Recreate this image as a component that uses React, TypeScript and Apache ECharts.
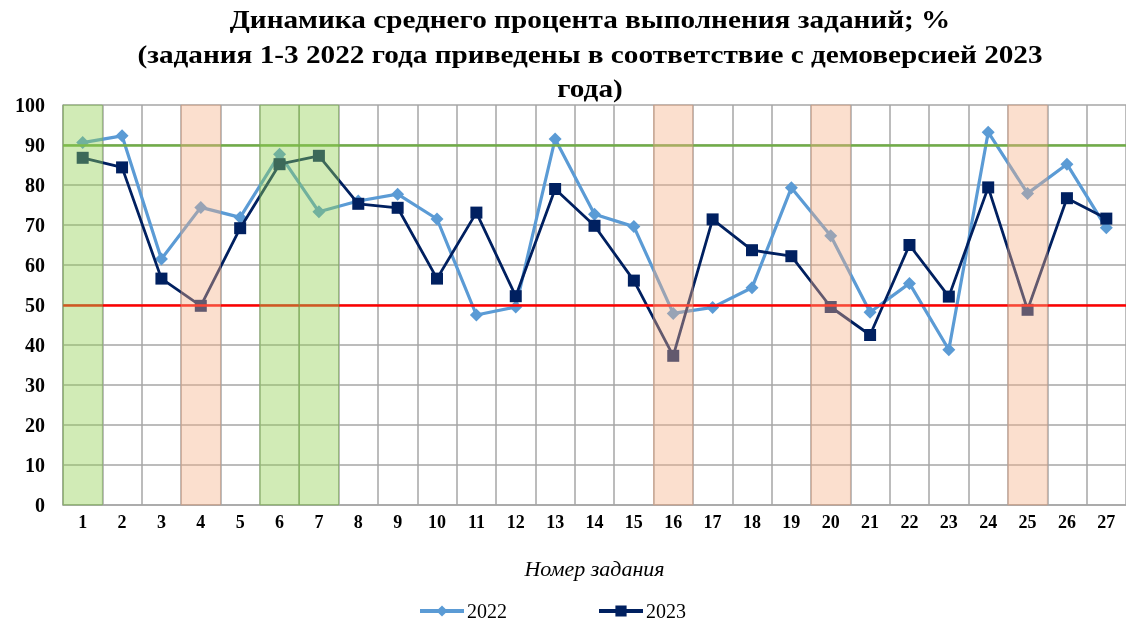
import React, { useEffect, useRef } from "react";
import * as echarts from "echarts";

const categories = ["1","2","3","4","5","6","7","8","9","10","11","12","13","14","15","16","17","18","19","20","21","22","23","24","25","26","27"];
const values2022 = [90.6, 92.3, 61.5, 74.4, 71.9, 87.7, 73.3, 76.0, 77.7, 71.5, 47.5, 49.5, 91.5, 72.7, 69.6, 47.9, 49.4, 54.3, 79.3, 67.3, 48.2, 55.4, 38.8, 93.2, 77.9, 85.2, 69.3];
const values2023 = [86.8, 84.4, 56.6, 49.8, 69.2, 85.2, 87.3, 75.3, 74.3, 56.6, 73.1, 52.2, 79.0, 69.8, 56.1, 37.3, 71.4, 63.7, 62.2, 49.5, 42.5, 65.0, 52.1, 79.4, 48.8, 76.7, 71.6];
const greenBands = ["1", "6", "7"];
const orangeBands = ["4", "16", "20", "25"];
const upperLevel = 90;
const lowerLevel = 50;
const titleLines = [
  "Динамика среднего процента выполнения заданий; %",
  "(задания 1-3 2022 года приведены в соответствие с демоверсией 2023",
  "года)",
];
const xAxisName = "Номер задания";

const SERIF = "'Liberation Serif', 'DejaVu Serif', serif";

export default function App() {
  const ref = useRef<HTMLDivElement>(null);
  useEffect(() => {
    if (!ref.current) return;
    const chart = echarts.init(ref.current, null, { renderer: "svg" });
    const bandData = [
      ...greenBands.map((c) => ({ value: [categories.indexOf(c), 100], kind: "g" })),
      ...orangeBands.map((c) => ({ value: [categories.indexOf(c), 100], kind: "o" })),
    ];
    const titleY = [20, 55, 89];
    chart.setOption({
      animation: false,
      graphic: titleLines.map((t, i) => ({
        type: "text",
        x: 590,
        y: titleY[i],
        scaleX: 1.17,
        silent: true,
        style: {
          text: t,
          font: `bold 25px ${SERIF}`,
          fill: "#000",
          textAlign: "center",
          textVerticalAlign: "middle",
        },
      })),
      legend: {
        data: ["2022", "2023"],
        left: 418,
        top: 601,
        padding: 0,
        itemWidth: 44,
        itemHeight: 14,
        itemGap: 90,
        lineStyle: { width: 4 },
        textStyle: { fontFamily: SERIF, fontSize: 20, color: "#000", padding: [0, 0, 0, -2] },
      },
      grid: { left: 63, right: 0, top: 105, bottom: 117, containLabel: false },
      xAxis: {
        type: "category",
        data: categories,
        boundaryGap: true,
        name: xAxisName,
        nameLocation: "middle",
        nameGap: 52,
        nameTextStyle: { fontFamily: SERIF, fontStyle: "italic", fontSize: 22, color: "#000" },
        axisLine: { lineStyle: { color: "#a6a6a6", width: 1.5 } },
        axisTick: { show: false },
        axisLabel: {
          fontFamily: SERIF,
          fontWeight: "bold",
          fontSize: 18,
          color: "#000",
          margin: 8,
          interval: 0,
        },
        splitLine: { show: true, lineStyle: { color: "#a6a6a6", width: 1.5 } },
      },
      yAxis: {
        type: "value",
        min: 0,
        max: 100,
        interval: 10,
        axisLine: { show: true, lineStyle: { color: "#a6a6a6", width: 1.5 } },
        axisTick: { show: false },
        axisLabel: {
          fontFamily: SERIF,
          fontWeight: "bold",
          fontSize: 20,
          color: "#000",
          margin: 18,
        },
        splitLine: { show: true, lineStyle: { color: "#a6a6a6", width: 1.5 } },
      },
      series: [
        {
          name: "2022",
          type: "line",
          data: values2022,
          symbol: "diamond",
          symbolSize: 13,
          color: "#5b9bd5",
          lineStyle: { color: "#5b9bd5", width: 3.2 },
          itemStyle: { color: "#5b9bd5" },
          z: 3,
          markLine: {
            silent: true,
            symbol: "none",
            label: { show: false },
            data: [
              { yAxis: upperLevel, lineStyle: { color: "#70ad47", width: 2.5, type: "solid" } },
              { yAxis: lowerLevel, lineStyle: { color: "#ff0000", width: 2.5, type: "solid" } },
            ],
          },
        },
        {
          name: "2023",
          type: "line",
          data: values2023,
          symbol: "rect",
          symbolSize: 12,
          color: "#002060",
          lineStyle: { color: "#002060", width: 2.8 },
          itemStyle: { color: "#002060" },
          z: 4,
        },
        {
          name: "bands",
          type: "custom",
          silent: true,
          z: 6,
          data: bandData,
          renderItem: (params: any, api: any) => {
            const idx = api.value(0);
            const top = api.coord([idx, api.value(1)]);
            const bottom = api.coord([idx, 0]);
            const w = api.size([1, 0])[0];
            const item = bandData[params.dataIndex];
            const green = item.kind === "g";
            return {
              type: "rect",
              shape: { x: top[0] - w / 2, y: top[1], width: w, height: bottom[1] - top[1] },
              style: {
                fill: green ? "rgba(146,208,80,0.42)" : "rgba(244,176,132,0.4)",
                stroke: green ? "rgba(112,173,71,0.45)" : "rgba(210,150,120,0.4)",
                lineWidth: 1,
              },
            };
          },
        },
      ],
    });
    return () => chart.dispose();
  }, []);
  return <div ref={ref} style={{ position: "fixed", left: 0, top: 0, width: 1126, height: 622 }} />;
}
